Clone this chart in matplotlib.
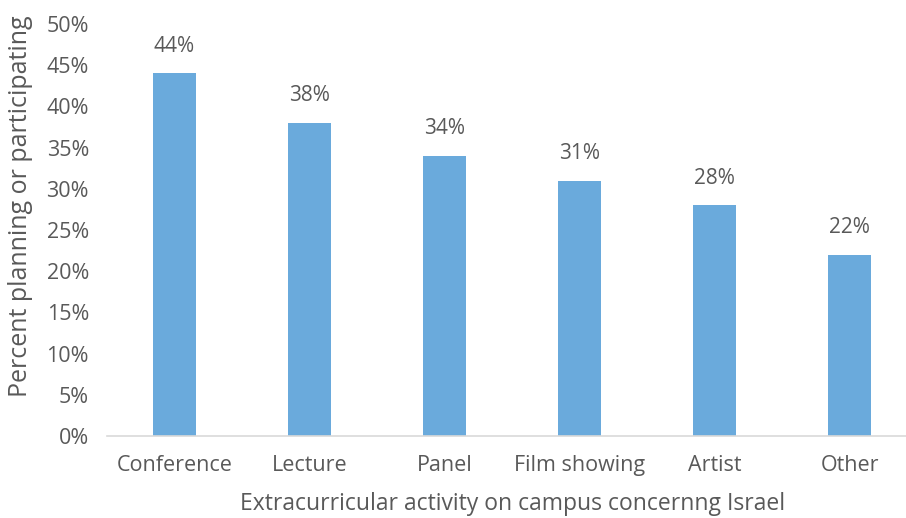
import matplotlib.pyplot as plt
import numpy as np

categories = ['Conference', 'Lecture', 'Panel', 'Film showing', 'Artist', 'Other']
values = [44, 38, 34, 31, 28, 22]
yticks = [0, 5, 10, 15, 20, 25, 30, 35, 40, 45, 50]

plt.rcParams['font.family'] = ['Open Sans', 'DejaVu Sans']
txt = '#595959'

fig = plt.figure(figsize=(9.06, 5.18), dpi=100)
ax = fig.add_axes([107 / 906, 82 / 518, 810 / 906, 412 / 518])

x = np.arange(len(categories))
ax.bar(x, values, width=0.32, color='#6aaadc', zorder=2)
for xi, v in zip(x, values):
    ax.text(xi, v + 2.0, f'{v}%', ha='center', va='bottom', fontsize=15, color=txt)

ax.set_xlim(-0.5, len(categories) - 0.5)
ax.set_ylim(0, 50)
ax.set_yticks(yticks)
ax.set_yticklabels([f'{t}%' for t in yticks])
ax.set_xticks(x)
ax.set_xticklabels(categories)
ax.tick_params(axis='both', length=0, labelsize=15.5, labelcolor=txt)
ax.tick_params(axis='y', pad=13)
ax.tick_params(axis='x', pad=14)

for s in ['top', 'right', 'left']:
    ax.spines[s].set_visible(False)
ax.spines['bottom'].set_color('#d9d9d9')
ax.spines['bottom'].set_linewidth(1.2)

ax.set_ylabel('Percent planning or participating', fontsize=18, color=txt)
ax.set_xlabel('Extracurricular activity on campus concernng Israel', fontsize=16.5, color=txt)
ax.yaxis.set_label_coords((33 - 107) / 810, (436 - 206) / 412)
ax.xaxis.set_label_coords((513 - 107) / 810, -(492 - 436) / 412)

fig.savefig('out.png', dpi=100)
